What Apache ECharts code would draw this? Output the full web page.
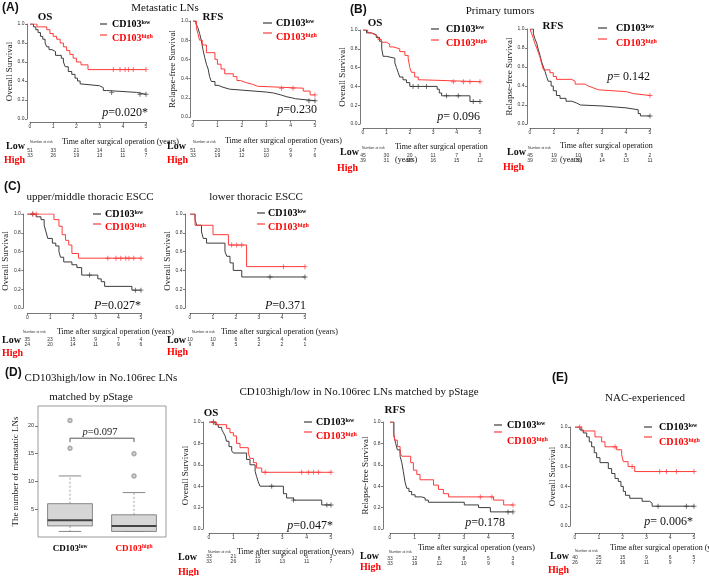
<!DOCTYPE html>
<html><head><meta charset="utf-8">
<script src="https://cdn.jsdelivr.net/npm/echarts@6/dist/echarts.min.js"></script>
<style>html,body{margin:0;padding:0;background:#fff}#c{width:709px;height:576px}</style>
</head><body><div id="c"></div>
<script>
// ---------------- DATA ----------------
const timeTicks = [0, 1, 2, 3, 4, 5];
const survTicks = [0, 0.2, 0.4, 0.6, 0.8, 1.0];

// (A) Metastatic LNs - OS
const aOsLowT = [0,0.15,0.25,0.35,0.45,0.55,0.65,0.72,0.82,0.95,1.1,1.35,1.44,1.52,1.65,1.8,1.94,2.05,2.16,2.23,3.0,3.16,3.3,4.6,5.0];
const aOsLowS = [1,0.97,0.94,0.91,0.87,0.84,0.8,0.76,0.73,0.71,0.67,0.64,0.6,0.55,0.5,0.47,0.43,0.4,0.37,0.35,0.33,0.3,0.28,0.26,0.26];
const aOsLowC = [3.52,4.74,5.0];
const aOsHighT = [0,0.3,0.72,0.86,1.0,1.15,1.3,1.44,1.58,1.72,1.86,2.0,2.2,2.5,5.0];
const aOsHighS = [1,0.97,0.94,0.9,0.87,0.84,0.8,0.76,0.72,0.68,0.64,0.6,0.57,0.52,0.52];
const aOsHighC = [3.59,3.88,4.1,4.24,4.45,5.0];
const aOsRiskLow = [51,33,21,14,11,6];
const aOsRiskHigh = [33,26,19,13,11,7];

// (A) Metastatic LNs - RFS
const aRfsLowT = [0,0.12,0.2,0.27,0.34,0.41,0.48,0.55,0.62,0.68,0.75,0.9,1.03,1.23,1.5,2.5,3.0,3.3,3.6,3.85,4.05,4.2,5.0];
const aRfsLowS = [1,0.97,0.93,0.87,0.8,0.7,0.62,0.55,0.5,0.42,0.37,0.33,0.31,0.29,0.27,0.26,0.25,0.23,0.21,0.2,0.19,0.17,0.17];
const aRfsLowC = [4.75,5.0];
const aRfsHighT = [0,0.14,0.2,0.27,0.38,0.55,0.9,1.0,1.15,1.3,1.65,1.8,1.95,2.15,2.45,2.65,4.52,4.8,5.0];
const aRfsHighS = [1,0.93,0.87,0.8,0.75,0.67,0.6,0.55,0.5,0.45,0.42,0.38,0.36,0.34,0.32,0.3,0.27,0.23,0.23];
const aRfsHighC = [3.63,4.1,5.0];
const aRfsRiskLow = [51,20,14,13,9,7];
const aRfsRiskHigh = [33,19,12,10,9,6];

// (B) Primary tumors - OS
const bOsLowT = [0,0.15,0.35,0.57,0.71,0.8,0.86,1.0,1.36,1.43,1.5,1.57,1.71,1.86,2.0,3.17,3.26,3.36,4.57,5.0];
const bOsLowS = [1,0.97,0.95,0.92,0.88,0.8,0.72,0.7,0.65,0.6,0.55,0.5,0.47,0.44,0.4,0.37,0.33,0.3,0.24,0.24];
const bOsLowC = [2.14,2.36,2.71,3.57,4.07,4.71,5.0];
const bOsHighT = [0,0.2,0.35,0.5,0.64,0.79,1.0,1.14,1.29,1.57,1.79,1.93,2.0,2.07,2.21,2.36,2.5,5.0];
const bOsHighS = [1,0.97,0.95,0.93,0.9,0.87,0.85,0.82,0.8,0.77,0.73,0.7,0.6,0.55,0.5,0.47,0.45,0.45];
const bOsHighC = [3.86,4.29,4.57,5.0];
const bOsRiskLow = [45,30,20,11,7,3];
const bOsRiskHigh = [39,31,26,16,15,12];

// (B) Primary tumors - RFS
const bRfsLowT = [0,0.14,0.2,0.28,0.35,0.42,0.49,0.56,0.63,0.69,0.76,0.88,0.97,1.1,1.25,1.5,1.74,1.95,2.1,3.0,3.5,4.0,4.51,4.6,5.0];
const bRfsLowS = [1,0.95,0.9,0.85,0.78,0.72,0.65,0.6,0.55,0.5,0.45,0.4,0.35,0.3,0.27,0.24,0.22,0.2,0.19,0.18,0.17,0.15,0.11,0.085,0.085];
const bRfsLowC = [5.0];
const bRfsHighT = [0,0.07,0.14,0.2,0.28,0.35,0.42,0.49,0.56,0.83,0.97,1.1,1.74,1.88,2.29,2.43,2.64,2.85,4.03,4.3,5.0];
const bRfsHighS = [1,0.95,0.9,0.85,0.8,0.75,0.7,0.63,0.57,0.54,0.5,0.47,0.45,0.42,0.4,0.38,0.36,0.34,0.32,0.3,0.3];
const bRfsHighC = [5.0];
const bRfsRiskLow = [45,19,10,9,5,2];
const bRfsRiskHigh = [39,20,16,14,13,11];

// (C) upper/middle thoracic ESCC
const cUpLowT = [0,0.39,0.6,0.74,0.82,0.9,1.1,1.25,1.39,1.46,1.6,1.96,2.18,2.39,3.1,3.25,3.4,4.6,5.0];
const cUpLowS = [1,0.97,0.94,0.88,0.81,0.74,0.69,0.66,0.6,0.54,0.49,0.46,0.43,0.35,0.31,0.28,0.23,0.19,0.19];
const cUpLowC = [0.24,2.74,4.75,5.0];
const cUpHighT = [0,1.17,1.39,1.53,1.68,1.82,1.96,2.25,5.0];
const cUpHighS = [1,0.94,0.87,0.78,0.72,0.67,0.58,0.53,0.53];
const cUpHighC = [0.24,0.39,3.54,3.9,4.11,4.33,4.47,4.68,5.0];
const cUpRiskLow = [35,23,15,9,7,4];
const cUpRiskHigh = [24,20,14,11,9,6];

// (C) lower thoracic ESCC
const cLoLowT = [0,0.22,0.29,0.5,0.58,0.72,1.52,1.6,1.74,1.88,2.25,5.0];
const cLoLowS = [1,0.94,0.88,0.81,0.74,0.69,0.6,0.55,0.48,0.4,0.33,0.33];
const cLoLowC = [3.48,5.0];
const cLoHighT = [0,0.22,1.0,1.67,2.46,5.0];
const cLoHighS = [1,0.88,0.78,0.67,0.44,0.44];
const cLoHighC = [1.81,2.03,2.25,4.06,5.0];
const cLoRiskLow = [10,10,6,5,4,4];
const cLoRiskHigh = [9,8,5,2,2,1];

// (D) box plot: number of metastatic LNs  [min, Q1, median, Q3, max]
const boxCats = ['CD103low','CD103high'];
const boxLow = [1,2,3,6,11];
const boxHigh = [1,1,2,4,8];
const outLow = [16,21];
const outHigh = [11,15];
const boxTicks = [5,10,15,20];

// (D) OS matched by pStage
const dOsLowT = [0,0.25,0.38,0.52,0.59,0.66,0.72,0.82,0.93,1.0,1.54,1.68,1.89,1.95,2.02,2.09,3.05,3.18,3.46,4.62,5.0];
const dOsLowS = [1,0.975,0.95,0.93,0.9,0.87,0.82,0.77,0.73,0.71,0.65,0.6,0.54,0.49,0.44,0.4,0.33,0.29,0.27,0.225,0.225];
const dOsLowC = [0.18,2.57,3.46,4.83,5.0];
const dOsHighT = [0,0.31,0.72,0.86,1.0,1.13,1.27,1.61,1.68,1.82,1.95,2.16,5.0];
const dOsHighS = [1,0.975,0.94,0.9,0.87,0.8,0.76,0.71,0.66,0.62,0.57,0.53,0.53];
const dOsHighC = [0.18,2.3,3.8,4.07,4.28,4.48,5.0];
const dOsRiskLow = [33,21,15,9,6,3];
const dOsRiskHigh = [33,26,19,13,11,7];

// (D) RFS matched by pStage
const dRfsLowT = [0,0.16,0.23,0.3,0.41,0.48,0.54,0.61,0.68,0.77,0.88,1.02,1.29,1.43,1.56,3.02,3.6,4.08,5.0];
const dRfsLowS = [1,0.87,0.8,0.74,0.68,0.62,0.54,0.44,0.38,0.35,0.32,0.3,0.29,0.27,0.25,0.225,0.2,0.16,0.16];
const dRfsLowC = [4.8,5.0];
const dRfsHighT = [0,0.14,0.2,0.3,0.41,0.48,0.84,0.95,1.09,1.22,1.77,1.97,2.17,2.38,4.21,4.62,5.0];
const dRfsHighS = [1,0.9,0.83,0.77,0.71,0.68,0.62,0.55,0.51,0.46,0.41,0.37,0.33,0.3,0.27,0.225,0.225];
const dRfsHighC = [3.67,4.14,5.0];
const dRfsRiskLow = [33,12,8,8,5,3];
const dRfsRiskHigh = [33,19,12,10,9,6];

// (E) NAC-experienced
const eLowT = [0,0.21,0.35,0.49,0.6,0.7,0.81,0.91,1.05,1.4,1.54,1.68,1.82,1.93,2.03,2.12,2.3,2.82,3.14,3.24,5.0];
const eLowS = [1,0.97,0.94,0.9,0.85,0.8,0.74,0.69,0.64,0.58,0.53,0.48,0.45,0.4,0.35,0.31,0.28,0.25,0.23,0.2,0.2];
const eLowC = [3.49,4.68,5.0];
const eHighT = [0,0.28,0.84,1.12,1.26,1.75,1.96,2.03,2.23,2.51,5.0];
const eHighS = [1,0.96,0.9,0.85,0.8,0.77,0.72,0.65,0.6,0.55,0.55];
const eHighC = [0.2,1.68,2.4,3.56,3.84,4.26,5.0];
const eRiskLow = [40,25,15,9,6,5];
const eRiskHigh = [26,22,16,11,9,7];

// ---------------- LAYOUT / STYLE ----------------
const SERIF = "'Liberation Serif','DejaVu Serif',serif";
const SANS = "'Liberation Sans','DejaVu Sans',sans-serif";
const LOWC = '#3c3c3c', HIGHC = '#ff3b3b', REDT = '#ff0000';

const panels = [
  {g:[30,24,116,95], xo:3, yo:3, yName:'Overall Survival', yGap:9, L:[aOsLowT,aOsLowS,aOsLowC], H:[aOsHighT,aOsHighS,aOsHighC], rL:aOsRiskLow, rH:aOsRiskHigh, rY:[150.7,155.7]},
  {g:[193,21,122,96], xo:3.5, yo:2.5, yName:'Relapse-free Survival', yGap:10, L:[aRfsLowT,aRfsLowS,aRfsLowC], H:[aRfsHighT,aRfsHighS,aRfsHighC], rL:aRfsRiskLow, rH:aRfsRiskHigh, rY:[150.7,155.7]},
  {g:[363,30,117,94], xo:4, yo:3, yName:'Overall Survival', yGap:5, L:[bOsLowT,bOsLowS,bOsLowC], H:[bOsHighT,bOsHighS,bOsHighC], rL:bOsRiskLow, rH:bOsRiskHigh, rY:[156,161]},
  {g:[530,29,120,95], xo:4, yo:3, yName:'Relapse-free Survival', yGap:9, L:[bRfsLowT,bRfsLowS,bRfsLowC], H:[bRfsHighT,bRfsHighS,bRfsHighC], rL:bRfsRiskLow, rH:bRfsRiskHigh, rY:[156,161]},
  {g:[24,214,117,94], xo:5, yo:4, yName:'Overall Survival', yGap:10, L:[cUpLowT,cUpLowS,cUpLowC], H:[cUpHighT,cUpHighS,cUpHighC], rL:cUpRiskLow, rH:cUpRiskHigh, rY:[340,344.5]},
  {g:[190,214,115,94], xo:5, yo:5, yName:'Overall Survival', yGap:6, L:[cLoLowT,cLoLowS,cLoLowC], H:[cLoHighT,cLoHighS,cLoHighC], rL:cLoRiskLow, rH:cLoRiskHigh, rY:[340,344.5]},
  {g:[209,422,122,107], xo:4, yo:6, yName:'Overall Survival', yGap:12, L:[dOsLowT,dOsLowS,dOsLowC], H:[dOsHighT,dOsHighS,dOsHighC], rL:dOsRiskLow, rH:dOsRiskHigh, rY:[557,561.5]},
  {g:[390,422,123,107], xo:4, yo:7, yName:'Relapse-free Survival', yGap:12, L:[dRfsLowT,dRfsLowS,dRfsLowC], H:[dRfsHighT,dRfsHighS,dRfsHighC], rL:dRfsRiskLow, rH:dRfsRiskHigh, rY:[559,563.5]},
  {g:[575,427,119,99], xo:7, yo:5, yName:'Overall Survival', yGap:7, L:[eLowT,eLowS,eLowC], H:[eHighT,eHighS,eHighC], rL:eRiskLow, rH:eRiskHigh, rY:[558,563]}
];
const boxGrid = [38,406,128,131];

// ---------------- BUILD ----------------
function stepAt(T, S, t) { let v = S[0]; for (let i = 0; i < T.length; i++) { if (T[i] <= t) v = S[i]; } return v; }
const plus = 'path://M-0.18,-1H0.18V-0.18H1V0.18H0.18V1H-0.18V0.18H-1V-0.18H-0.18Z';

const grid = [], xAxis = [], yAxis = [], series = [];
panels.forEach((p, gi) => {
  grid.push({left:p.g[0], top:p.g[1], width:p.g[2], height:p.g[3], containLabel:false});
  const base = xAxis.length;
  xAxis.push({gridIndex:gi, type:'value', min:0, max:5, interval:1, position:'bottom', offset:p.xo,
    axisLine:{show:true, onZero:false, lineStyle:{color:'#555', width:0.8}},
    axisTick:{show:true, length:2, lineStyle:{color:'#555', width:0.8}},
    axisLabel:{fontSize:5, margin:2.5, color:'#333', fontFamily:SANS, showMinLabel:true, showMaxLabel:true},
    splitLine:{show:false}});
  [p.rL, p.rH].forEach((arr, k) => {
    xAxis.push({gridIndex:gi, type:'value', min:0, max:5, interval:1, position:'bottom',
      offset: p.rY[k] - 2.5 - (p.g[1] + p.g[3]),
      axisLine:{show:false}, axisTick:{show:false}, splitLine:{show:false},
      axisLabel:{fontSize:5, margin:0, color:'#333', fontFamily:SANS, showMinLabel:true, showMaxLabel:true,
        formatter: v => String(arr[Math.round(v)])}});
  });
  yAxis.push({gridIndex:gi, type:'value', min:0, max:1, interval:0.2, position:'left', offset:p.yo,
    axisLine:{show:true, onZero:false, lineStyle:{color:'#555', width:0.8}},
    axisTick:{show:true, length:2, lineStyle:{color:'#555', width:0.8}},
    axisLabel:{fontSize:5, margin:2.5, color:'#333', fontFamily:SANS, formatter: v => v.toFixed(1)},
    splitLine:{show:false},
    name:p.yName, nameLocation:'middle', nameRotate:90, nameGap:p.yGap,
    nameTextStyle:{fontFamily:SERIF, fontSize:9, color:'#222'}});
  [[p.L, LOWC], [p.H, HIGHC]].forEach(([d, col]) => {
    series.push({type:'line', step:'end', xAxisIndex:base, yAxisIndex:gi, symbol:'none', silent:true,
      lineStyle:{color:col, width:1}, data:d[0].map((t, i) => [t, d[1][i]]), z:3});
    series.push({type:'scatter', xAxisIndex:base, yAxisIndex:gi, symbol:plus, symbolSize:5, silent:true,
      itemStyle:{color:col}, data:d[2].map(t => [t, stepAt(d[0], d[1], t)]), z:4});
  });
});

// Box plot grid
const bgi = grid.length;
grid.push({left:boxGrid[0], top:boxGrid[1], width:boxGrid[2], height:boxGrid[3], show:true, borderColor:'#9a9a9a', borderWidth:1});
const bxi = xAxis.length;
xAxis.push({gridIndex:bgi, type:'category', data:boxCats, boundaryGap:true,
  axisLine:{show:false}, axisTick:{show:false},
  axisLabel:{margin:7, interval:0, hideOverlap:false, formatter:(v, i) => i === 0 ? '{b|CD103}{s|low}' : '{rb|CD103}{rs|high}',
    rich:{b:{fontFamily:SERIF, fontWeight:'bold', fontSize:9, color:'#000'},
          s:{fontFamily:SERIF, fontWeight:'bold', fontSize:5.5, color:'#000', verticalAlign:'top'},
          rb:{fontFamily:SERIF, fontWeight:'bold', fontSize:9, color:REDT},
          rs:{fontFamily:SERIF, fontWeight:'bold', fontSize:5.5, color:REDT, verticalAlign:'top'}}}});
const byi = yAxis.length;
yAxis.push({gridIndex:bgi, type:'value', min:0, max:23.6, position:'left',
  axisLine:{show:false},
  axisTick:{show:true, length:3, customValues:boxTicks, lineStyle:{color:'#777'}},
  axisLabel:{fontSize:5.5, margin:4, color:'#333', fontFamily:SANS, customValues:boxTicks},
  splitLine:{show:false},
  name:'The number of metastatic LNs', nameLocation:'middle', nameRotate:90, nameGap:18,
  nameTextStyle:{fontFamily:SERIF, fontSize:9, color:'#222'}});
series.push({type:'custom', xAxisIndex:bxi, yAxisIndex:byi, silent:true,
  data:[[0].concat(boxLow), [1].concat(boxHigh)],
  renderItem:(params, api) => {
    const x = api.value(0);
    const pMin = api.coord([x, api.value(1)]), pQ1 = api.coord([x, api.value(2)]);
    const pMed = api.coord([x, api.value(3)]), pQ3 = api.coord([x, api.value(4)]);
    const pMax = api.coord([x, api.value(5)]);
    const bw = api.size([1, 0])[0] * 0.7, cw = bw * 0.5, cx = pMed[0];
    const ls = {stroke:'#7a7a7a', lineWidth:0.9};
    return {type:'group', children:[
      {type:'line', shape:{x1:cx, y1:pQ3[1], x2:cx, y2:pMax[1]}, style:{stroke:'#8a8a8a', lineWidth:0.8, lineDash:[2,2]}},
      {type:'line', shape:{x1:cx, y1:pQ1[1], x2:cx, y2:pMin[1]}, style:{stroke:'#8a8a8a', lineWidth:0.8, lineDash:[2,2]}},
      {type:'line', shape:{x1:cx - cw/2, y1:pMax[1], x2:cx + cw/2, y2:pMax[1]}, style:ls},
      {type:'line', shape:{x1:cx - cw/2, y1:pMin[1], x2:cx + cw/2, y2:pMin[1]}, style:ls},
      {type:'rect', shape:{x:cx - bw/2, y:pQ3[1], width:bw, height:pQ1[1] - pQ3[1]}, style:{fill:'#d6d6d6', stroke:'#7a7a7a', lineWidth:0.9}},
      {type:'line', shape:{x1:cx - bw/2, y1:pMed[1], x2:cx + bw/2, y2:pMed[1]}, style:{stroke:'#444', lineWidth:2}}
    ]};
  }});
series.push({type:'scatter', xAxisIndex:bxi, yAxisIndex:byi, symbol:'emptyCircle', symbolSize:3.5, silent:true,
  itemStyle:{color:'#999', borderColor:'#999', borderWidth:0.8},
  data: outLow.map(v => [0, v]).concat(outHigh.map(v => [1, v]))});
const bracketY = 17.8, bracketTick = 17.1;
series.push({type:'line', xAxisIndex:bxi, yAxisIndex:byi, symbol:'none', silent:true,
  lineStyle:{color:'#444', width:0.9},
  data:[[0, bracketTick], [0, bracketY], [1, bracketY], [1, bracketTick]]});

// ---------------- TEXT / ANNOTATIONS ----------------
const G = [];
function txt(x, y, text, o) {
  o = o || {};
  G.push({type:'text', x:x, y:y, silent:true, style:Object.assign({text:text, fontFamily:SERIF, fontSize:11,
    fill:'#111', align:'left', verticalAlign:'middle'}, o)});
}
function seg(x1, y1, x2, y2, col) {
  G.push({type:'line', silent:true, shape:{x1:x1, y1:y1, x2:x2, y2:y2}, style:{stroke:col, lineWidth:1.2}});
}
const legRich = {
  b:{fontFamily:SERIF, fontWeight:'bold', fontSize:10, fill:'#000'},
  s:{fontFamily:SERIF, fontWeight:'bold', fontSize:6, fill:'#000', verticalAlign:'top'},
  rb:{fontFamily:SERIF, fontWeight:'bold', fontSize:10, fill:REDT},
  rs:{fontFamily:SERIF, fontWeight:'bold', fontSize:6, fill:REDT, verticalAlign:'top'}
};
function legend(lx1, lx2, tx, yb, ylr, ytr) {
  seg(lx1, yb, lx2, yb, LOWC);
  txt(tx, yb, '{b|CD103}{s|low}', {rich:legRich});
  seg(lx1, ylr, lx2, ylr, HIGHC);
  txt(tx, ytr, '{rb|CD103}{rs|high}', {rich:legRich});
}
const pRich = {i:{fontFamily:SERIF, fontStyle:'italic', fontSize:12, fill:'#111'}, r:{fontFamily:SERIF, fontSize:12, fill:'#111'}};
function pval(xr, y, letter, val) { txt(xr, y, '{i|' + letter + '}{r|=' + val + '}', {rich:pRich, align:'right'}); }
function lowHigh(xl, yl, xh, yh) {
  txt(xl, yl, 'Low', {fontWeight:'bold', fontSize:10, fill:'#111'});
  txt(xh, yh, 'High', {fontWeight:'bold', fontSize:10, fill:REDT});
}
function xname(xn, yn, text, xr, yr) {
  txt(xn, yn, text, {fontSize:8});
  txt(xr, yr, 'Number at risk', {fontFamily:SANS, fontSize:3.5, fill:'#333'});
}

// panel letters & titles
const LET = {fontFamily:SANS, fontWeight:'bold', fontSize:12, fill:'#111'};
txt(2, 8, '(A)', LET); txt(350, 10, '(B)', LET); txt(4, 187, '(C)', LET); txt(5, 373, '(D)', LET); txt(552, 378, '(E)', LET);
txt(165, 8, 'Metastatic LNs', {align:'center', fontSize:11});
txt(500, 11, 'Primary tumors', {align:'center', fontSize:11});
txt(90, 197, 'upper/middle thoracic ESCC', {align:'center', fontSize:11});
txt(256, 197, 'lower thoracic ESCC', {align:'center', fontSize:11});
txt(101, 378, 'CD103high/low in No.106rec LNs', {align:'center', fontSize:11});
txt(91, 397, 'matched by pStage', {align:'center', fontSize:11});
txt(359, 392, 'CD103high/low in No.106rec LNs matched by pStage', {align:'center', fontSize:11});
txt(645, 398, 'NAC-experienced', {align:'center', fontSize:11});
const SUB = {fontWeight:'bold', fontSize:11, align:'center'};
txt(45, 17, 'OS', SUB); txt(213, 17, 'RFS', SUB); txt(375, 23, 'OS', SUB); txt(553, 26, 'RFS', SUB);
txt(211, 413, 'OS', SUB); txt(395, 410, 'RFS', SUB);

// legends
legend(100, 107, 112, 24, 35, 38);
legend(263, 272, 276, 23, 33, 37);
legend(431, 439, 446, 29, 40, 43);
legend(598, 607, 616, 28, 39, 43);
legend(93, 101, 105, 214, 224, 227);
legend(257, 265, 268, 213, 224, 227);
legend(304, 312, 316, 422, 432, 436);
legend(494, 502, 507, 425, 432, 441);
legend(644, 652, 659, 427, 437, 442);

// p-values
pval(148, 113, 'p', '0.020*');
pval(317, 110, 'p', '0.230');
pval(480, 117, 'p', ' 0.096');
pval(650, 77, 'p', ' 0.142');
pval(141, 306, 'P', '0.027*');
pval(306, 306, 'P', '0.371');
pval(333, 526, 'p', '0.047*');
pval(505, 523, 'p', '0.178');
pval(693, 522, 'p', ' 0.006*');
txt(100, 432, '{i|p}{r|=0.097}', {align:'center', rich:{i:{fontFamily:SERIF, fontStyle:'italic', fontSize:10.5, fill:'#222'}, r:{fontFamily:SERIF, fontSize:10.5, fill:'#222'}}});

// axis names and risk labels
xname(62, 142, 'Time after surgical operation (years)', 30, 142);
xname(225, 141, 'Time after surgical operation (years)', 193, 142);
xname(395, 147, 'Time after surgical operation', 362, 148);
txt(395, 160, '(years)', {fontSize:8});
xname(560, 146, 'Time after surgical operation', 528, 148);
txt(560, 160, '(years)', {fontSize:8});
xname(57, 332, 'Time after surgical operation (years)', 23, 332);
xname(221, 332, 'Time after surgical operation (years)', 192, 332);
xname(237, 552, 'Time after surgical operation (years)', 208, 552);
xname(418, 548, 'Time after surgical operation (years)', 389, 552);
xname(610, 548, 'Time after surgical operation (years)', 575, 551);
lowHigh(6, 146, 4, 160);
lowHigh(167, 146, 167, 160);
lowHigh(340, 152, 337, 168);
lowHigh(507, 152, 503, 167);
lowHigh(2, 340, 2, 353);
lowHigh(167, 340, 167, 352);
lowHigh(178, 557, 178, 572);
lowHigh(360, 556, 360, 567);
lowHigh(550, 556, 548, 570);

const chart = echarts.init(document.getElementById('c'), null, {renderer:'canvas'});
chart.setOption({animation:false, backgroundColor:'#fff', grid:grid, xAxis:xAxis, yAxis:yAxis, series:series, graphic:{elements:G}});
</script></body></html>
